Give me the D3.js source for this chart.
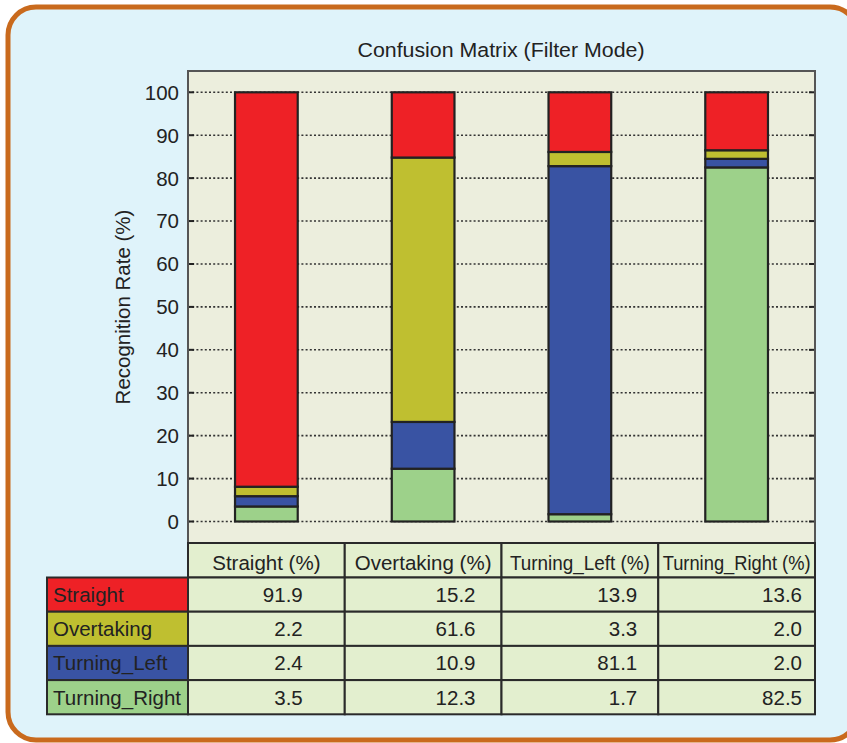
<!DOCTYPE html>
<html>
<head>
<meta charset="utf-8">
<script src="https://cdn.jsdelivr.net/npm/d3@7/dist/d3.min.js"></script>
<style>
  html, body { margin: 0; padding: 0; background: #ffffff; }
  svg { display: block; }
  text { font-family: "Liberation Sans", Arial, Helvetica, sans-serif; fill: #222; }
</style>
</head>
<body>
<script>
// ---- data ----
const title = "Confusion Matrix (Filter Mode)";
const yLabel = "Recognition Rate (%)";
const columns = ["Straight", "Overtaking", "Turning_Left", "Turning_Right"];
const columnHeaders = ["Straight (%)", "Overtaking (%)", "Turning_Left (%)", "Turning_Right (%)"];
const classes = ["Straight", "Overtaking", "Turning_Left", "Turning_Right"];
const straightRow = [91.9, 15.2, 13.9, 13.6];
const overtakingRow = [2.2, 61.6, 3.3, 2.0];
const turningLeftRow = [2.4, 10.9, 81.1, 2.0];
const turningRightRow = [3.5, 12.3, 1.7, 82.5];
const yTicks = [0, 10, 20, 30, 40, 50, 60, 70, 80, 90, 100];

const rowsByClass = {
  "Straight": straightRow,
  "Overtaking": overtakingRow,
  "Turning_Left": turningLeftRow,
  "Turning_Right": turningRightRow
};
const classColors = {
  "Straight": "#ee2126",
  "Overtaking": "#bfbf30",
  "Turning_Left": "#3953a3",
  "Turning_Right": "#9dd18a"
};

// ---- layout ----
const W = 847, H = 743;
const plot = { left: 188, right: 815, top: 71, bottom: 543 };
const table = { top: 543, headerH: 34.5, rowH: 34.2, labelLeft: 47 };
const valuePadRight = [42, 26, 21, 13];
const headerFit = [0, 0, 140, 148];

const svg = d3.select("body").append("svg").attr("width", W).attr("height", H);

// background panel
svg.append("rect").attr("width", W).attr("height", H).attr("fill", "#ffffff");
svg.append("rect")
  .attr("x", 8).attr("y", 7).attr("width", 850).attr("height", 733)
  .attr("rx", 28).attr("ry", 28)
  .attr("fill", "#dff3fa").attr("stroke", "#c96a1d").attr("stroke-width", 5);

// scales
const x = d3.scaleBand().domain(columns).range([plot.left, plot.right])
  .paddingInner(0.6).paddingOuter(0.3);
const step = x.step();
const colLeft = c => plot.left + columns.indexOf(c) * step;
const y = d3.scaleLinear().domain([0, 100]).range([521.5, 92.3]);

// plot area
svg.append("rect")
  .attr("x", plot.left).attr("y", plot.top)
  .attr("width", plot.right - plot.left).attr("height", plot.bottom - plot.top)
  .attr("fill", "#eceedd");

// gridlines (dotted) behind bars
const grid = svg.append("g");
grid.selectAll("line.grid").data(yTicks).join("line")
  .attr("class", "grid")
  .attr("x1", plot.left).attr("x2", plot.right)
  .attr("y1", d => y(d)).attr("y2", d => y(d))
  .attr("stroke", "#333").attr("stroke-width", 1.6)
  .attr("stroke-dasharray", "2,2.2");
grid.selectAll("line.tl").data(yTicks).join("line")
  .attr("class", "tl")
  .attr("x1", plot.left).attr("x2", plot.left + 6)
  .attr("y1", d => y(d)).attr("y2", d => y(d))
  .attr("stroke", "#222").attr("stroke-width", 2);
grid.selectAll("line.tr").data(yTicks).join("line")
  .attr("class", "tr")
  .attr("x1", plot.right - 6).attr("x2", plot.right)
  .attr("y1", d => y(d)).attr("y2", d => y(d))
  .attr("stroke", "#222").attr("stroke-width", 2);

// stacked bars
const tableData = columns.map((c, i) => {
  const o = { column: c };
  classes.forEach(k => { o[k] = rowsByClass[k][i]; });
  return o;
});
const stackKeys = classes.slice().reverse(); // Turning_Right at bottom
const series = d3.stack().keys(stackKeys)(tableData);

const bars = svg.append("g");
series.forEach(s => {
  bars.selectAll(null).data(s).join("rect")
    .attr("x", d => x(d.data.column))
    .attr("width", x.bandwidth())
    .attr("y", d => y(Math.min(d[1], 100)))
    .attr("height", d => y(d[0]) - y(Math.min(d[1], 100)))
    .attr("fill", classColors[s.key])
    .attr("stroke", "#222").attr("stroke-width", 2.2);
});

// plot frame
svg.append("rect")
  .attr("x", plot.left).attr("y", plot.top)
  .attr("width", plot.right - plot.left).attr("height", plot.bottom - plot.top)
  .attr("fill", "none").attr("stroke", "#555").attr("stroke-width", 2);

// y tick labels
svg.append("g").selectAll("text").data(yTicks).join("text")
  .attr("x", 179).attr("y", d => y(d)).attr("dy", "0.36em")
  .attr("text-anchor", "end").attr("font-size", 20.5)
  .text(d => d);

// y label
svg.append("text")
  .attr("transform", `translate(130,${(plot.top + 543) / 2}) rotate(-90)`)
  .attr("text-anchor", "middle").attr("font-size", 20.5)
  .text(yLabel);

// title
svg.append("text")
  .attr("x", 501).attr("y", 57).attr("text-anchor", "middle")
  .attr("font-size", 20.5).attr("textLength", 287).attr("lengthAdjust", "spacingAndGlyphs")
  .text(title);

// ---- table ----
const tg = svg.append("g");
columns.forEach((c, i) => {
  tg.append("rect")
    .attr("x", colLeft(c)).attr("y", table.top)
    .attr("width", step).attr("height", table.headerH)
    .attr("fill", "#e3efcf").attr("stroke", "#2a2a2a").attr("stroke-width", 2);
  const t = tg.append("text")
    .attr("x", colLeft(c) + step / 2).attr("y", table.top + 27)
    .attr("text-anchor", "middle").attr("font-size", 20.5)
    .text(columnHeaders[i]);
  if (headerFit[i] > 0) t.attr("textLength", headerFit[i]).attr("lengthAdjust", "spacingAndGlyphs");
});
classes.forEach((k, r) => {
  const ry = table.top + table.headerH + r * table.rowH;
  tg.append("rect")
    .attr("x", table.labelLeft).attr("y", ry)
    .attr("width", plot.left - table.labelLeft).attr("height", table.rowH)
    .attr("fill", classColors[k]).attr("stroke", "#2a2a2a").attr("stroke-width", 2);
  tg.append("text")
    .attr("x", table.labelLeft + 6).attr("y", ry + 24.5)
    .attr("font-size", 20.5)
    .text(k);
  columns.forEach((c, i) => {
    tg.append("rect")
      .attr("x", colLeft(c)).attr("y", ry)
      .attr("width", step).attr("height", table.rowH)
      .attr("fill", "#e3efcf").attr("stroke", "#2a2a2a").attr("stroke-width", 2);
    tg.append("text")
      .attr("x", colLeft(c) + step - valuePadRight[i]).attr("y", ry + 24.5)
      .attr("text-anchor", "end").attr("font-size", 20.5)
      .text(rowsByClass[k][i].toFixed(1));
  });
});
</script>
</body>
</html>
